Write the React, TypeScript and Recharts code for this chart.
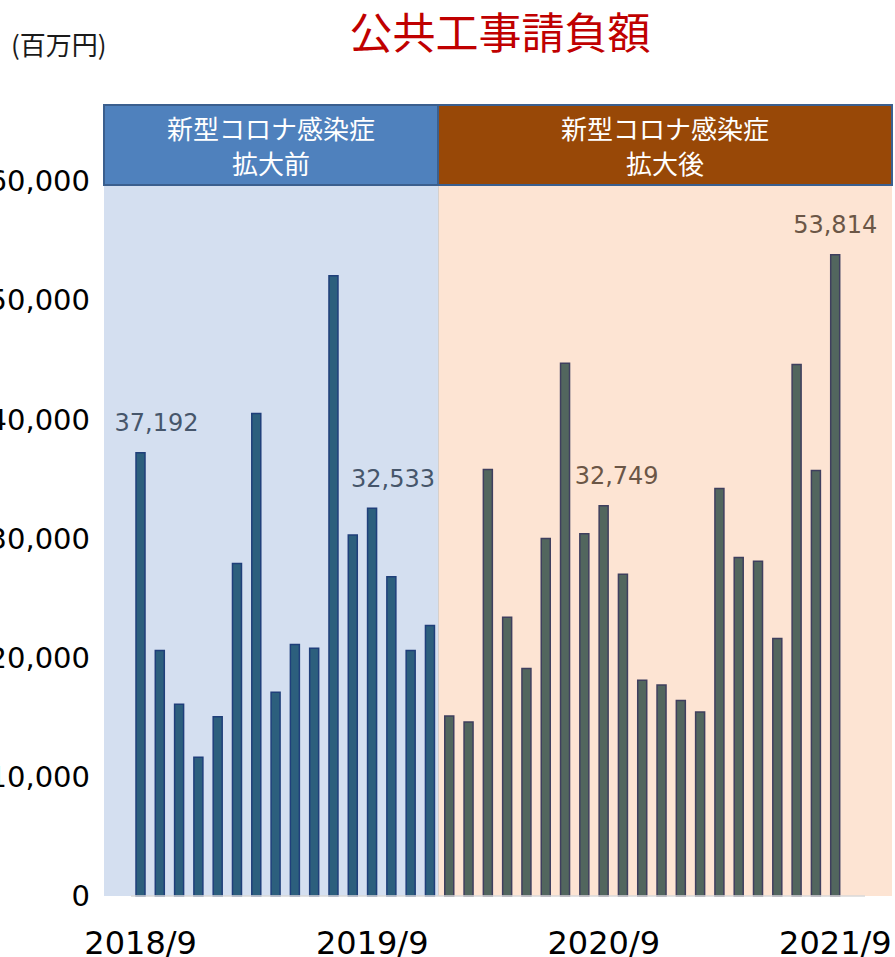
import React from 'react';
import { BarChart, Bar, XAxis, YAxis, Cell, LabelList } from 'recharts';

const months: string[] = [
  '2018/9', '2018/10', '2018/11', '2018/12',
  '2019/1', '2019/2', '2019/3', '2019/4', '2019/5', '2019/6', '2019/7', '2019/8', '2019/9', '2019/10', '2019/11', '2019/12',
  '2020/1', '2020/2', '2020/3', '2020/4', '2020/5', '2020/6', '2020/7', '2020/8', '2020/9', '2020/10', '2020/11', '2020/12',
  '2021/1', '2021/2', '2021/3', '2021/4', '2021/5', '2021/6', '2021/7', '2021/8', '2021/9',
];

const amounts: number[] = [
  37192, 20600, 16100, 11650,
  15050, 27900, 40500, 17100, 21100, 20800, 52050, 30300, 32533, 26800, 20600, 22700,
  15100, 14600, 35800, 23400, 19100, 30000, 44700, 30400, 32749, 27000, 18100, 17700,
  16400, 15450, 34200, 28400, 28100, 21600, 44600, 35700, 53814,
];

const yTicks: number[] = [0, 10000, 20000, 30000, 40000, 50000, 60000];

const labeledMonths: string[] = ['2018/9', '2019/9', '2020/9', '2021/9'];

const periodTitles: string[] = ['新型コロナ感染症\n拡大前', '新型コロナ感染症\n拡大後'];
const firstAfterMonth = '2020/1';

const title = '公共工事請負額';
const unitLabel = '(百万円)';

const data = months.map((m, i) => ({ month: m, amount: amounts[i] }));
const afterIndex = months.indexOf(firstAfterMonth);

const labelOffsets: Record<string, { dx: number; color: string }> = {
  '2018/9': { dx: 16, color: '#46566b' },
  '2019/9': { dx: 21, color: '#46566b' },
  '2020/9': { dx: 13, color: '#6b5646' },
  '2021/9': { dx: 0, color: '#6b5646' },
};

const fmt = (v: number) => v.toLocaleString('en-US');

const renderLabel = (props: any) => {
  const { x, y, width, index } = props;
  const m = months[index];
  if (!labeledMonths.includes(m)) return null;
  const o = labelOffsets[m];
  return (
    <text
      x={x + width / 2 + o.dx}
      y={y - 30}
      dy="0.36em"
      textAnchor="middle"
      fill={o.color}
      fontSize={24}
      fontFamily="DejaVu Sans"
    >
      {fmt(amounts[index])}
    </text>
  );
};

export default function App() {
  const headerBase: React.CSSProperties = {
    position: 'absolute',
    top: 104,
    height: 82,
    boxSizing: 'border-box',
    border: '2px solid #3b5f8e',
    color: '#ffffff',
    fontFamily: '"Noto Sans CJK JP", sans-serif',
    fontSize: 26,
    lineHeight: '35px',
    display: 'flex',
    flexDirection: 'column',
    alignItems: 'center',
    justifyContent: 'center',
    whiteSpace: 'pre-line',
    textAlign: 'center',
  };
  return (
    <div style={{ position: 'absolute', left: 0, top: 0, width: 895, height: 957, background: '#ffffff', overflow: 'hidden' }}>
      <div style={{ position: 'absolute', left: 104, top: 186, width: 334, height: 710, background: '#d4dff0' }} />
      <div style={{ position: 'absolute', left: 438, top: 186, width: 454, height: 710, background: '#fde4d3', borderLeft: '1px solid #d6d0cc', boxSizing: 'border-box' }} />
      <div style={{ ...headerBase, left: 103, width: 336, background: '#4f81bd' }}>{periodTitles[0]}</div>
      <div style={{ ...headerBase, left: 437, width: 456, background: '#984807' }}>{periodTitles[1]}</div>
      <div
        style={{
          position: 'absolute', left: 300, top: 9, width: 400, textAlign: 'center',
          fontFamily: '"Noto Sans CJK JP", sans-serif', fontSize: 43, lineHeight: '43px', color: '#c00000',
        }}
      >
        {title}
      </div>
      <div
        style={{
          position: 'absolute', left: 11, top: 29, fontFamily: '"Noto Sans CJK JP", sans-serif',
          fontSize: 26, lineHeight: '30px', color: '#1a1a1a',
        }}
      >
        {unitLabel}
      </div>
      <div style={{ position: 'absolute', left: 0, top: 0 }}>
        <BarChart
          width={895}
          height={957}
          data={data}
          margin={{ top: 181, right: 30, left: 0, bottom: 0 }}
          barCategoryGap={0}
        >
          <XAxis
            dataKey="month"
            interval={11}
            height={61}
            padding={{ left: 0, right: 20 }}
            tickLine={false}
            tickSize={6}
            tickMargin={29}
            axisLine={{ stroke: '#d9d9d9', strokeWidth: 1.5 }}
            tick={{ fill: '#000000', fontSize: 32, fontFamily: 'DejaVu Sans' }}
          />
          <YAxis
            width={131}
            domain={[0, 60000]}
            ticks={yTicks}
            tickFormatter={fmt}
            axisLine={false}
            tickLine={false}
            tickSize={6}
            tickMargin={35}
            tick={{ fill: '#000000', fontSize: 29, fontFamily: 'DejaVu Sans' }}
          />
          <Bar dataKey="amount" barSize={9} isAnimationActive={false}>
            {data.map((d, i) => (
              <Cell
                key={d.month}
                fill={i < afterIndex ? '#2c5f7d' : '#52665e'}
                stroke={i < afterIndex ? '#1f3f7a' : '#3f3f5e'}
                strokeWidth={1.5}
              />
            ))}
            <LabelList dataKey="amount" content={renderLabel} />
          </Bar>
        </BarChart>
      </div>
    </div>
  );
}
